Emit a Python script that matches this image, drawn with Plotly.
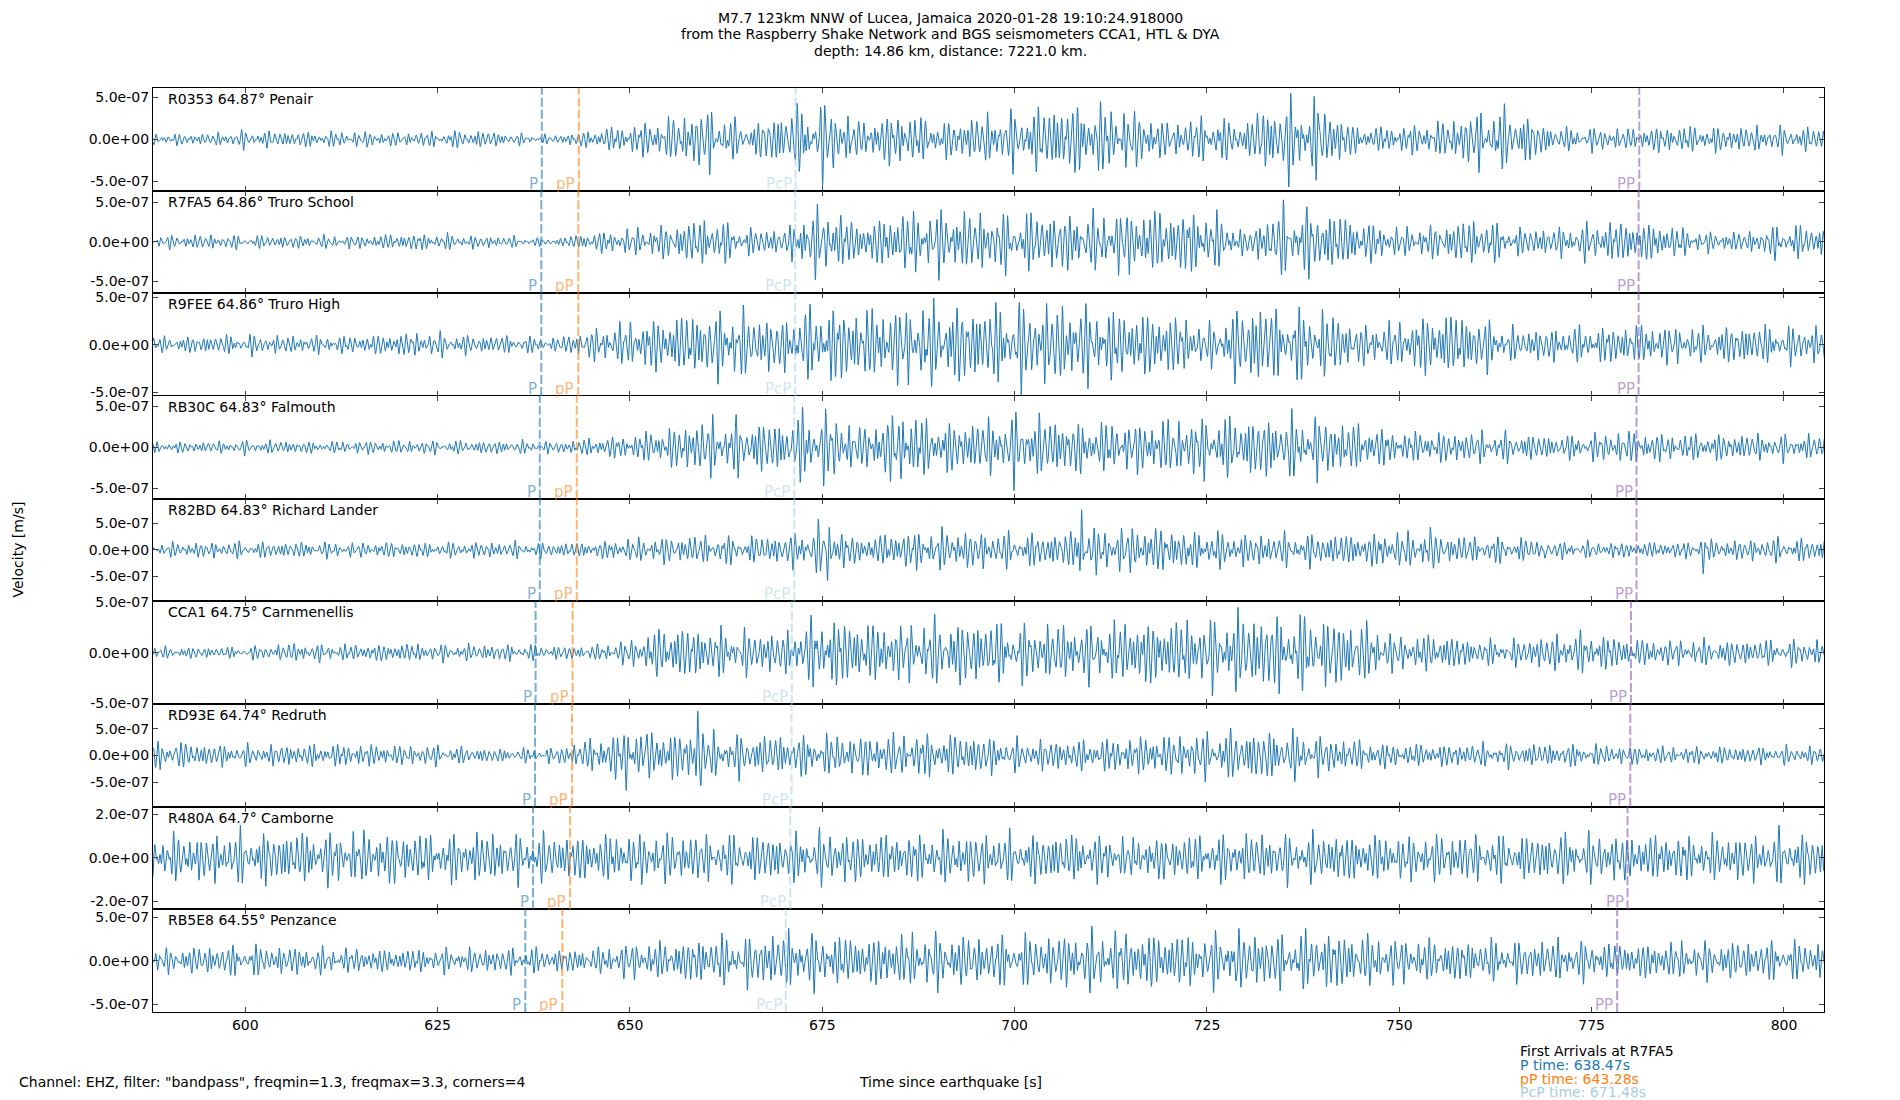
import numpy as np
import plotly.graph_objects as go
from plotly.subplots import make_subplots

# stations, top to bottom
stations = ["R0353", "R7FA5", "R9FEE", "RB30C", "R82BD", "CCA1", "RD93E", "R480A", "RB5E8"]
distances = ["64.87", "64.86", "64.86", "64.83", "64.83", "64.75", "64.74", "64.7", "64.55"]
places = ["Penair", "Truro School", "Truro High", "Falmouth", "Richard Lander",
          "Carnmenellis", "Redruth", "Camborne", "Penzance"]

# arrival times [s] per station
p_times = [638.54, 638.47, 638.47, 638.27, 638.27, 637.73, 637.66, 637.40, 636.39]
pp_depth_times = [643.35, 643.28, 643.28, 643.08, 643.08, 642.54, 642.47, 642.21, 641.20]
pcp_times = [671.52, 671.48, 671.48, 671.36, 671.36, 671.04, 671.00, 670.84, 670.24]
pp_times = [781.19, 781.10, 781.10, 780.83, 780.83, 780.11, 780.02, 779.66, 778.31]

# envelope of each trace, read every 5 s from 590 s to 805 s, in 1e-7 m/s
env_times = list(range(590, 806, 5))
env_r0353 = [0.55, 0.55, 0.85, 0.75, 0.75, 0.75, 0.65, 0.75, 0.85, 0.55, 0.4, 0.9, 1.4, 2.0, 3.0, 1.3, 2.7, 3.6, 1.6, 2.7, 1.6, 2.2,
             2.6, 3.2, 3.4, 2.8, 1.6, 2.2, 1.6, 3.8, 3.2, 1.1, 1.3, 1.6, 2.7, 2.8, 1.1, 1.1, 1.0, 1.3, 1.2, 1.2, 1.2, 1.1]
env_r7fa5 = [0.65, 0.75, 0.65, 0.65, 0.65, 0.65, 0.85, 0.85, 0.65, 0.55, 0.35, 1.0, 1.3, 1.7, 2.5, 1.4, 1.3, 3.6, 1.9, 3.0, 3.2, 3.0,
             2.9, 3.0, 2.8, 3.2, 3.2, 3.2, 1.1, 3.5, 3.2, 2.2, 1.4, 1.7, 2.4, 1.4, 1.4, 1.9, 2.2, 1.7, 1.0, 1.0, 1.8, 1.5]
env_r9fee = [0.65, 0.75, 0.85, 0.75, 0.75, 0.75, 1.0, 1.0, 0.75, 0.75, 0.55, 1.3, 1.9, 2.4, 2.8, 2.6, 2.2, 3.3, 3.0, 3.2, 3.4, 3.2,
             3.4, 3.4, 3.2, 2.7, 2.7, 1.6, 3.3, 2.9, 2.9, 1.6, 1.9, 2.8, 2.4, 1.3, 1.4, 1.5, 1.7, 1.6, 1.4, 1.7, 1.5, 1.6]
env_rb30c = [0.55, 0.55, 0.65, 0.65, 0.55, 0.65, 0.65, 0.65, 0.65, 0.65, 0.55, 0.9, 1.2, 1.9, 2.8, 2.6, 2.4, 3.5, 1.9, 3.6, 2.4, 2.5,
             3.2, 2.8, 2.4, 2.4, 2.7, 2.9, 2.9, 3.0, 2.9, 2.2, 1.5, 1.5, 1.5, 1.4, 1.1, 1.3, 1.6, 1.3, 1.3, 1.3, 1.2, 1.2]
env_r82bd = [1.1, 1.2, 1.2, 1.2, 1.2, 1.1, 1.2, 1.1, 1.2, 1.2, 1.1, 1.2, 1.7, 2.0, 2.2, 2.0, 2.2, 3.8, 1.9, 2.8, 3.0, 2.8,
             2.5, 2.5, 3.2, 3.4, 3.4, 2.8, 2.4, 2.4, 2.4, 2.4, 2.7, 2.4, 1.9, 1.9, 1.3, 1.2, 1.2, 1.2, 1.4, 1.6, 1.8, 1.7]
env_cca1 = [0.45, 0.45, 0.45, 0.75, 0.65, 0.65, 0.75, 0.65, 0.65, 0.65, 0.55, 0.55, 1.0, 2.2, 1.9, 1.7, 1.6, 2.9, 2.4, 2.2, 2.5, 2.5,
            2.2, 2.2, 2.2, 2.5, 2.6, 2.6, 3.2, 2.9, 2.8, 2.4, 1.3, 1.5, 1.0, 1.0, 1.4, 1.6, 1.1, 1.0, 1.0, 1.0, 1.0, 1.0]
env_rd93e = [2.1, 1.7, 1.5, 1.6, 1.7, 1.7, 1.5, 1.5, 1.1, 1.0, 1.1, 2.5, 3.8, 3.7, 3.2, 3.0, 3.0, 3.0, 3.0, 3.2, 3.2, 3.0,
             2.3, 2.3, 2.3, 2.8, 3.0, 3.4, 3.7, 3.7, 2.8, 2.2, 1.7, 1.7, 1.7, 1.7, 1.7, 1.6, 1.4, 1.3, 1.3, 1.3, 1.3, 1.4]
env_r480a = [0.85, 0.85, 0.95, 0.95, 0.95, 0.95, 0.95, 0.85, 0.95, 0.85, 0.85, 0.85, 0.9, 0.9, 0.85, 0.85, 0.85, 0.95, 0.9, 0.85,
             0.9, 0.9, 0.85, 0.9, 0.85, 0.75, 0.8, 0.85, 0.9, 0.85, 0.9, 0.85, 0.8, 0.85, 0.85, 0.8, 0.85, 0.85, 0.85, 0.85,
             0.8, 0.85, 0.95, 0.85]
env_rb5e8 = [1.1, 1.3, 1.4, 1.3, 1.2, 1.1, 1.1, 1.1, 1.1, 1.2, 1.1, 1.1, 1.6, 1.7, 2.2, 2.2, 2.6, 2.4, 2.2, 2.4, 2.5, 2.2,
             2.3, 2.3, 2.7, 2.6, 2.5, 2.4, 2.6, 2.4, 2.8, 2.4, 2.0, 1.9, 1.9, 1.8, 1.9, 1.7, 1.6, 1.7, 1.7, 1.7, 1.8, 1.7]
envelopes = [env_r0353, env_r7fa5, env_r9fee, env_rb30c, env_r82bd, env_cca1, env_rd93e, env_r480a, env_rb5e8]

# single large swings standing out of each trace: (time [s], extra peak in 1e-7 m/s)
spikes = [
    [(673.2, -1.8), (731.5, 1.6), (739.4, 2.0)],
    [(672.6, 1.8), (672.3, -1.8)],
    [(663.6, -1.5), (731.7, -1.4)],
    [(686.4, -2.0), (672.4, 1.6)],
    [(675.7, -4.0), (708.7, 6.0), (722.6, -3.6), (754.0, 4.0), (768.9, -2.6), (789.5, -4.0)],
    [(604.0, 0.6), (731.0, -1.0)],
    [(591.0, 2.0), (649.5, -2.8), (652.0, 2.5), (658.8, 5.5), (659.2, -4.0)],
    [(614.4, 0.5), (715.7, 0.5), (730.6, -0.45), (771.0, 0.5), (798.0, -0.4)],
    [(728.7, -2.4), (671.0, 1.2)],
]

# y axis half range and tick step per panel, in m/s
y_half = [6.1e-7, 6.5e-7, 5.4e-7, 6.25e-7, 9.7e-7, 5.05e-7, 9.6e-7, 2.36e-7, 5.9e-7]
y_step = [5e-7, 5e-7, 5e-7, 5e-7, 5e-7, 5e-7, 5e-7, 2e-7, 5e-7]
y_ticktext = [["-5.0e-07", "0.0e+00", "5.0e-07"]] * 7 + [["-2.0e-07", "0.0e+00", "2.0e-07"]] + [["-5.0e-07", "0.0e+00", "5.0e-07"]]

x_ticks = [600, 625, 650, 675, 700, 725, 750, 775, 800]

FONT = "DejaVu Sans"
n = len(stations)
fig = make_subplots(rows=n, cols=1, shared_xaxes=True, vertical_spacing=0)

# wiggle shape inside the envelope (bandpass 1.3-3.3 Hz look)
freqs = [1.37, 1.62, 1.98, 2.31, 2.87]
weights = [1.0, 0.8, 0.7, 0.5, 0.35]

fs = 40.0
t = np.arange(588.0, 805.4, 1.0 / fs)
for i in range(n):
    env = np.interp(t, env_times, envelopes[i]) * 1e-7
    carrier = np.zeros_like(t)
    for k, (f, w) in enumerate(zip(freqs, weights)):
        carrier += w * np.sin(2 * np.pi * f * t + 1.9 * i * (k + 1) + 0.7 * k)
    carrier /= 2.0
    y = env * carrier
    for t0, a in spikes[i]:
        y = y + a * 1e-7 * np.exp(-((t - t0) / 0.22) ** 2) * np.cos(2 * np.pi * 1.8 * (t - t0))
    fig.add_trace(go.Scatter(x=t, y=y, mode="lines", line=dict(color="#1f77b4", width=1),
                             showlegend=False, hoverinfo="skip"), row=i + 1, col=1)

arrivals = [
    ("P", p_times, "rgba(31,119,180,0.6)"),
    ("pP", pp_depth_times, "rgba(255,127,14,0.6)"),
    ("PcP", pcp_times, "rgba(166,206,227,0.55)"),
    ("PP", pp_times, "rgba(148,103,189,0.65)"),
]

for i in range(n):
    xr = "x" if i == 0 else "x%d" % (i + 1)
    yr = "y" if i == 0 else "y%d" % (i + 1)
    for name, times, col in arrivals:
        fig.add_shape(type="line", xref=xr, yref=yr + " domain", x0=times[i], x1=times[i], y0=0, y1=1,
                      line=dict(color=col, width=2, dash="9px,3px"))
        fig.add_annotation(xref=xr, yref=yr + " domain", x=times[i], y=0, xanchor="right", yanchor="bottom",
                           xshift=-2, yshift=-4, text=name, showarrow=False,
                           font=dict(family=FONT, size=15, color=col))
    fig.add_annotation(xref=xr + " domain", yref=yr + " domain", x=0.008, y=1, xanchor="left", yanchor="top",
                       yshift=-1, text="%s %s° %s" % (stations[i], distances[i], places[i]), showarrow=False,
                       font=dict(family=FONT, size=14, color="black"))
    fig.update_yaxes(range=[-y_half[i], y_half[i]], tickvals=[-y_step[i], 0, y_step[i]], ticktext=y_ticktext[i],
                     ticks="inside", ticklen=5, mirror="allticks", showline=True, linecolor="black", linewidth=1.2,
                     showgrid=False, zeroline=False, tickfont=dict(family=FONT, size=14, color="black"),
                     row=i + 1, col=1)
    fig.update_xaxes(range=[588.0, 805.2], tickvals=x_ticks, ticks="inside", ticklen=5, mirror="allticks",
                     showline=True, linecolor="black", linewidth=1.2, showgrid=False, zeroline=False,
                     tickfont=dict(family=FONT, size=14, color="black"), row=i + 1, col=1)

# the page body adds an 8 px margin, so the figure is 8 px smaller and starts 8 px in
title_lines = [
    "M7.7 123km NNW of Lucea, Jamaica 2020-01-28 19:10:24.918000",
    "from the Raspberry Shake Network and BGS seismometers CCA1, HTL & DYA",
    "depth: 14.86 km, distance: 7221.0 km.",
]
for k, line in enumerate(title_lines):
    fig.add_annotation(xref="paper", yref="paper", x=0.5, y=1, yanchor="middle", xanchor="center",
                       xshift=-38, yshift=88 - 17.5 - 16.5 * k, text=line, showarrow=False,
                       font=dict(family=FONT, size=14, color="black"))

fig.add_annotation(xref="paper", yref="paper", x=0, y=0.5, xanchor="center", yanchor="middle", xshift=-135.5,
                   text="Velocity [m/s]", textangle=-90,
                   showarrow=False, font=dict(family=FONT, size=14, color="black"))
fig.add_annotation(xref="paper", yref="paper", x=0, y=0, xanchor="left", yanchor="middle", xshift=-136, yshift=-70,
                   text='Channel: EHZ, filter: "bandpass", freqmin=1.3, freqmax=3.3, corners=4', showarrow=False,
                   font=dict(family=FONT, size=14, color="black"))
fig.add_annotation(xref="paper", yref="paper", x=0.5, y=0, xanchor="center", yanchor="middle", xshift=-38,
                   yshift=-70, text="Time since earthquake [s]", showarrow=False,
                   font=dict(family=FONT, size=14, color="black"))

first_arrivals = [
    ("First Arrivals at R7FA5", "black"),
    ("P time: 638.47s", "#1f77b4"),
    ("pP time: 643.28s", "#ff7f0e"),
    ("PcP time: 671.48s", "#a6cee3"),
]
for k, (txt, col) in enumerate(first_arrivals):
    fig.add_annotation(xref="paper", yref="paper", x=0, y=0, xanchor="left", yanchor="middle",
                       xshift=1520 - 152.5 - 2.5, yshift=-(1051 - 1012) - 13.8 * k, text=txt, showarrow=False,
                       font=dict(family=FONT, size=14, color=col))

fig.update_layout(width=1892, height=1092, plot_bgcolor="white", paper_bgcolor="white",
                  margin=dict(l=144.5, r=76, t=80, b=88), showlegend=False)

fig.write_html("out.html")
